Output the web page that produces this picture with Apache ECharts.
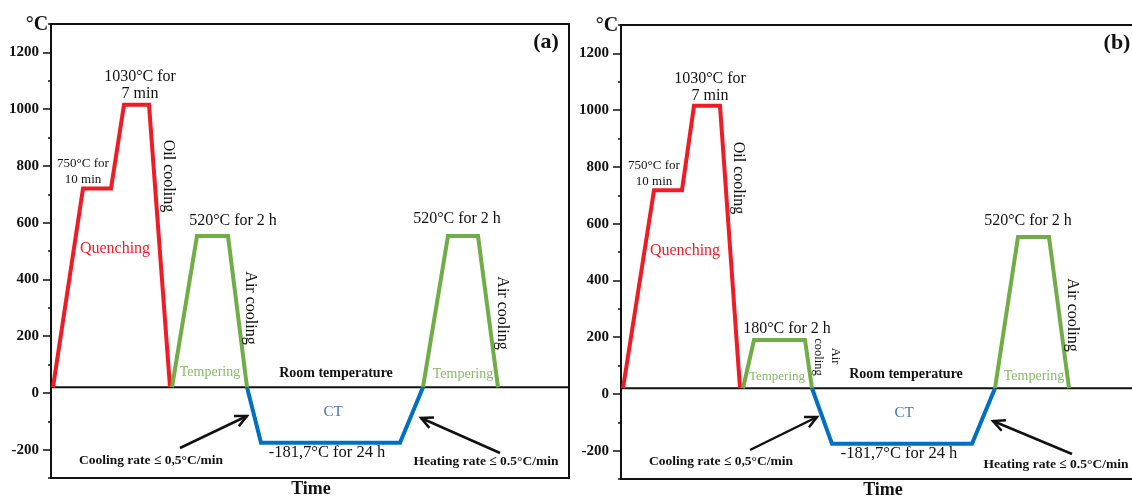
<!DOCTYPE html>
<html>
<head>
<meta charset="utf-8">
<script src="https://cdn.jsdelivr.net/npm/echarts@6/dist/echarts.min.js"></script>
<style>
html,body{margin:0;padding:0;background:#fff;}
#chart{width:1132px;height:498px;}
</style>
</head>
<body>
<div id="chart"></div>
<script>
// ---- data (time in arbitrary units, temperature in °C) ----
const roomTemp = 20;
const timeSpan = [0, 518];
const yTickLabels = [-200, 0, 200, 400, 600, 800, 1000, 1200];

// panel (a)
const aQuenchTime = [2, 32, 60, 73, 98, 119];
const aQuenchTemp = [20, 720, 720, 1015, 1015, 20];
const aTemper1Time = [121, 146, 177, 196];
const aTemper1Temp = [20, 553, 553, 20];
const aCtTime = [196, 210, 349, 372];
const aCtTemp = [20, -176, -176, 20];
const aTemper2Time = [372, 397, 427, 447];
const aTemper2Temp = [20, 553, 553, 20];

// panel (b)
const bQuenchTime = [2, 33, 61, 73, 99, 119];
const bQuenchTemp = [20, 718, 718, 1015, 1015, 20];
const bTemper1Time = [122, 133, 184, 191];
const bTemper1Temp = [20, 190, 190, 20];
const bCtTime = [191, 211, 351, 374];
const bCtTemp = [20, -176, -176, 20];
const bTemper2Time = [374, 397, 428, 448];
const bTemper2Temp = [20, 553, 553, 20];

const RED = '#ee1c25', GREEN = '#70ad47', BLUE = '#0070c0';
const SERIF = "'Liberation Serif', 'Times New Roman', serif";

function pairs(t, v) { return t.map((x, i) => [x, v[i]]); }

const chart = echarts.init(document.getElementById('chart'), null, {renderer: 'canvas'});

const grids = [
  {left: 51, top: 24, width: 518, height: 454},
  {left: 621, top: 25, width: 518, height: 454}
];

const xAxes = [], yAxes = [];
grids.forEach((g, gi) => {
  xAxes.push({
    type: 'value', gridIndex: gi, min: timeSpan[0], max: timeSpan[1], position: 'bottom',
    axisLine: {show: true, onZero: false, lineStyle: {color: '#111', width: 2}},
    axisTick: {show: false}, axisLabel: {show: false}, splitLine: {show: false}
  });
  yAxes.push({
    type: 'value', gridIndex: gi, min: -300, max: 1300, interval: 100, position: 'left', offset: 0,
    axisLine: {show: true, onZero: false, lineStyle: {color: '#111', width: 2}},
    axisTick: {show: true, length: 8, customValues: yTickLabels, lineStyle: {color: '#111', width: 1.5}},
    axisLabel: {show: true, customValues: yTickLabels, margin: 12,
      formatter: v => String(v),
      fontFamily: SERIF, fontWeight: 'bold', fontSize: 15, color: '#111'},
    splitLine: {show: false}
  });
  yAxes.push({
    type: 'value', gridIndex: gi, min: -300, max: 1300, interval: 100, position: 'left', offset: 0,
    axisLine: {show: false, onZero: false},
    axisTick: {show: true, length: 3, lineStyle: {color: '#111', width: 1.5}},
    axisLabel: {show: false},
    splitLine: {show: false}
  });
});

function seg(gi, t, v, color, width) {
  return {
    type: 'line', xAxisIndex: gi, yAxisIndex: gi * 2,
    data: pairs(t, v), showSymbol: false, symbol: 'none', silent: true,
    lineStyle: {color: color, width: width, join: 'miter'},
    animation: false, clip: false
  };
}

const series = [
  seg(0, timeSpan, [roomTemp, roomTemp], '#111', 2),
  seg(0, aQuenchTime, aQuenchTemp, RED, 4),
  seg(0, aTemper1Time, aTemper1Temp, GREEN, 4),
  seg(0, aCtTime, aCtTemp, BLUE, 4),
  seg(0, aTemper2Time, aTemper2Temp, GREEN, 4),
  seg(1, timeSpan, [roomTemp, roomTemp], '#111', 2),
  seg(1, bQuenchTime, bQuenchTemp, RED, 4),
  seg(1, bTemper1Time, bTemper1Temp, GREEN, 4),
  seg(1, bCtTime, bCtTemp, BLUE, 4),
  seg(1, bTemper2Time, bTemper2Temp, GREEN, 4)
];

function txt(text, x, y, size, opts) {
  opts = opts || {};
  return {
    type: 'text', x: x, y: y, rotation: opts.rot ? -Math.PI / 2 : 0, z: 100,
    style: {
      text: text,
      font: (opts.bold ? 'bold ' : '') + size + 'px ' + SERIF,
      fill: opts.color || '#111',
      align: 'center', verticalAlign: 'middle',
      textAlign: 'center', textVerticalAlign: 'middle'
    }
  };
}

function arrow(x1, y1, x2, y2) {
  const ang = Math.atan2(y2 - y1, x2 - x1);
  const L = 13, spread = 0.45;
  const p1 = [x2 - L * Math.cos(ang - spread), y2 - L * Math.sin(ang - spread)];
  const p2 = [x2 - L * Math.cos(ang + spread), y2 - L * Math.sin(ang + spread)];
  return [
    {type: 'line', z: 100, shape: {x1: x1, y1: y1, x2: x2, y2: y2}, style: {stroke: '#111', lineWidth: 2.5}},
    {type: 'polyline', z: 100, shape: {points: [p1, [x2, y2], p2]}, style: {stroke: '#111', lineWidth: 2.5, fill: null}}
  ];
}

const TEMPER_C = '#86bb63', CT_C = '#4a72b8';

const graphics = [
  // panel (a)
  txt('°C', 37, 25, 20, {bold: true}),
  txt('(a)', 546, 42, 22, {bold: true}),
  txt('1030°C for', 140, 77, 16),
  txt('7 min', 140, 94, 16),
  txt('750°C for', 83, 164, 13),
  txt('10 min', 83, 180, 13),
  txt('Quenching', 115, 249, 16, {color: RED}),
  txt('Oil cooling', 168, 176, 16, {rot: true}),
  txt('520°C for 2 h', 233, 221, 16),
  txt('Air cooling', 250, 308, 16, {rot: true}),
  txt('Tempering', 210, 372, 14, {color: TEMPER_C}),
  txt('Room temperature', 336, 373, 14, {bold: true}),
  txt('CT', 333, 412, 15, {color: CT_C}),
  txt('-181,7°C for 24 h', 327, 453, 16.5),
  txt('Cooling rate ≤ 0,5°C/min', 151, 461, 13.5, {bold: true}),
  txt('Heating rate ≤ 0.5°C/min', 486, 462, 13.5, {bold: true}),
  txt('Time', 311, 489, 18, {bold: true}),
  txt('520°C for 2 h', 457, 219, 16),
  txt('Air cooling', 502, 313, 16, {rot: true}),
  txt('Tempering', 463, 374, 14, {color: TEMPER_C}),
  // panel (b)
  txt('°C', 607, 26, 20, {bold: true}),
  txt('(b)', 1117, 43, 22, {bold: true}),
  txt('1030°C for', 710, 79, 16),
  txt('7 min', 710, 96, 16),
  txt('750°C for', 654, 166, 13),
  txt('10 min', 654, 182, 13),
  txt('Quenching', 685, 251, 16, {color: RED}),
  txt('Oil cooling', 738, 178, 16, {rot: true}),
  txt('180°C for 2 h', 787, 329, 16),
  txt('Air', 835, 356, 12.5, {rot: true}),
  txt('cooling', 818, 357, 12.5, {rot: true}),
  txt('Tempering', 777, 377, 13, {color: TEMPER_C}),
  txt('Room temperature', 906, 374, 14, {bold: true}),
  txt('CT', 904, 413, 15, {color: CT_C}),
  txt('-181,7°C for 24 h', 899, 454, 16.5),
  txt('Cooling rate ≤ 0,5°C/min', 721, 462, 13.5, {bold: true}),
  txt('Heating rate ≤ 0.5°C/min', 1056, 465, 13.5, {bold: true}),
  txt('Time', 883, 490, 18, {bold: true}),
  txt('520°C for 2 h', 1028, 221, 16),
  txt('Air cooling', 1072, 315, 16, {rot: true}),
  txt('Tempering', 1034, 376, 14, {color: TEMPER_C})
]
  .concat(arrow(180, 448, 247, 416))
  .concat(arrow(500, 453, 421, 418))
  .concat(arrow(750, 450, 817, 417))
  .concat(arrow(1072, 454, 993, 421));

chart.setOption({
  backgroundColor: '#fff',
  animation: false,
  grid: grids.map(g => Object.assign({show: true, borderColor: '#111', borderWidth: 2,
    backgroundColor: 'transparent', containLabel: false, outerBoundsMode: 'none'}, g)),
  xAxis: xAxes,
  yAxis: yAxes,
  series: series,
  graphic: {elements: graphics}
});
</script>
</body>
</html>
